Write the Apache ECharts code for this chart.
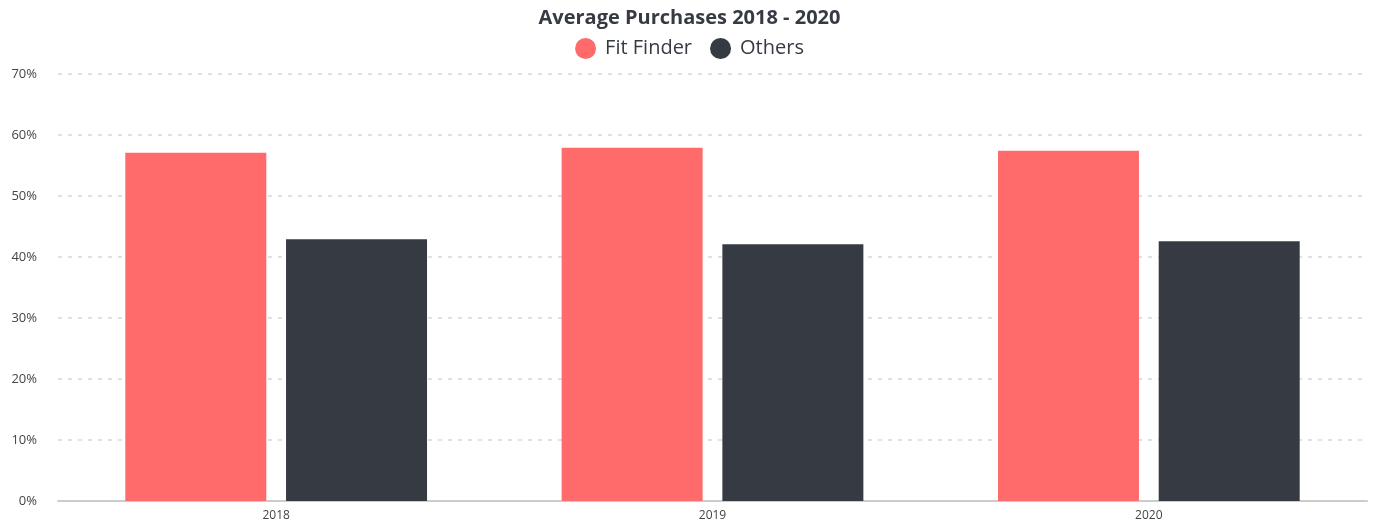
<!DOCTYPE html>
<html>
<head>
<meta charset="utf-8">
<script src="https://cdn.jsdelivr.net/npm/echarts@6/dist/echarts.min.js"></script>
<style>
  html, body { margin: 0; padding: 0; background: #ffffff; }
  #chart { width: 1379px; height: 524px; }
</style>
</head>
<body>
<div id="chart"></div>
<script>
// Share of purchases per year, in percent
const years = ['2018', '2019', '2020'];
const fitFinder = [57.1, 57.9, 57.4];
const others = [42.9, 42.1, 42.6];
const seriesNames = ['Fit Finder', 'Others'];
const yTicks = { min: 0, max: 70, step: 10 };

const font = '"Open Sans", Lato, sans-serif';
const chart = echarts.init(document.getElementById('chart'), null, { renderer: 'canvas' });

chart.setOption({
  backgroundColor: '#ffffff',
  animation: false,
  color: ['#ff6b6b', '#363a43'],
  title: {
    text: 'Average Purchases 2018 - 2020',
    left: 'center',
    top: 3,
    textStyle: { fontFamily: font, fontSize: 20, fontWeight: 'bold', color: '#363a43' }
  },
  legend: {
    data: seriesNames,
    top: 33,
    left: 'center',
    icon: 'circle',
    itemWidth: 21,
    itemHeight: 21,
    itemGap: 18,
    textStyle: { fontFamily: font, fontSize: 20, color: '#363a43', padding: [0, 0, 0, 4] }
  },
  grid: { left: 58, right: 12, top: 74, bottom: 23, containLabel: false },
  xAxis: {
    type: 'category',
    data: years,
    axisLine: { show: true, lineStyle: { color: '#cccccc', width: 2 } },
    axisTick: { show: false },
    axisLabel: { fontFamily: font, fontSize: 12, color: '#444444', margin: 9 },
    splitLine: { show: false }
  },
  yAxis: {
    type: 'value',
    min: yTicks.min,
    max: yTicks.max,
    interval: yTicks.step,
    axisLine: { show: false },
    axisTick: { show: false },
    axisLabel: { fontFamily: font, fontSize: 13, color: '#444444', margin: 21, formatter: '{value}%' },
    splitLine: { show: true, lineStyle: { color: '#d8d8d8', width: 1.5, type: [4, 6] } }
  },
  series: [
    { name: seriesNames[0], type: 'bar', data: fitFinder, barWidth: 141, barGap: '14%' },
    { name: seriesNames[1], type: 'bar', data: others, barWidth: 141, barGap: '14%' }
  ]
});
</script>
</body>
</html>
